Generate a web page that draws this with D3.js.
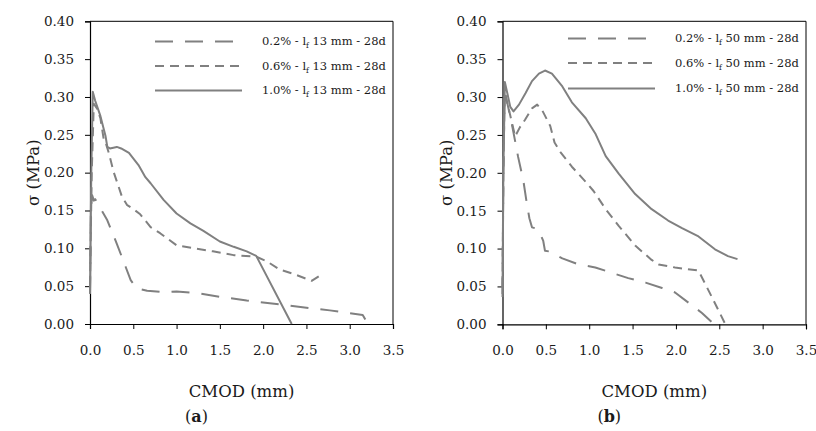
<!DOCTYPE html>
<html><head><meta charset="utf-8">
<script src="https://cdn.jsdelivr.net/npm/d3@7"></script>
<style>
body{margin:0;background:#fff;}
svg{display:block;font-family:"DejaVu Serif",serif;}
</style></head>
<body><svg id="c" width="816" height="431"></svg>
<script>
// ---------- data ----------
const xTicks = [0, 0.5, 1.0, 1.5, 2.0, 2.5, 3.0, 3.5];
const yTicks = [0, 0.05, 0.10, 0.15, 0.20, 0.25, 0.30, 0.35, 0.40];
const seriesPct = ["0.2%", "0.6%", "1.0%"];
const fibreLen = ["13", "50"];
const panelTags = ["a", "b"];

const a02 = [[0,0.04],[0.01,0.15],[0.025,0.17],[0.045,0.163],[0.06,0.165],[0.2,0.137],[0.31,0.106],[0.41,0.076],[0.47,0.058],[0.54,0.047],[0.66,0.044],[0.85,0.042],[1.0,0.043],[1.23,0.041],[1.5,0.036],[1.81,0.031],[2.19,0.026],[2.54,0.021],[2.77,0.018],[3.15,0.012],[3.21,0]];
const a06 = [[0,0.05],[0.02,0.2],[0.044,0.291],[0.08,0.285],[0.12,0.272],[0.16,0.243],[0.18,0.24],[0.22,0.225],[0.27,0.202],[0.37,0.168],[0.43,0.157],[0.5,0.152],[0.58,0.145],[0.7,0.128],[0.81,0.12],[1.0,0.104],[1.2,0.1],[1.42,0.096],[1.66,0.091],[1.92,0.089],[2.04,0.083],[2.19,0.072],[2.38,0.065],[2.56,0.057],[2.67,0.065]];
const a10 = [[0,0.04],[0.015,0.2],[0.032,0.307],[0.06,0.295],[0.12,0.275],[0.18,0.248],[0.2,0.234],[0.23,0.232],[0.31,0.234],[0.36,0.232],[0.45,0.226],[0.56,0.21],[0.64,0.194],[0.7,0.186],[0.85,0.164],[1.0,0.146],[1.16,0.133],[1.31,0.123],[1.5,0.109],[1.66,0.102],[1.81,0.096],[1.92,0.09],[2.33,0]];

const b02 = [[0,0.04],[0.01,0.2],[0.025,0.31],[0.05,0.295],[0.107,0.265],[0.18,0.221],[0.24,0.19],[0.28,0.16],[0.31,0.14],[0.34,0.128],[0.40,0.126],[0.44,0.118],[0.47,0.11],[0.49,0.097],[0.55,0.096],[0.69,0.087],[0.88,0.079],[1.07,0.075],[1.26,0.068],[1.45,0.061],[1.65,0.055],[1.84,0.048],[1.99,0.042],[2.14,0.029],[2.3,0.015],[2.44,0]];
const b06 = [[0,0.05],[0.01,0.2],[0.025,0.305],[0.06,0.29],[0.146,0.248],[0.2,0.26],[0.26,0.27],[0.34,0.285],[0.4,0.29],[0.46,0.282],[0.55,0.262],[0.6,0.24],[0.67,0.227],[0.8,0.208],[0.96,0.188],[1.05,0.176],[1.19,0.152],[1.34,0.13],[1.53,0.104],[1.72,0.085],[1.8,0.079],[1.99,0.075],[2.26,0.071],[2.41,0.037],[2.57,0]];
const b10 = [[0,0.036],[0.01,0.2],[0.027,0.32],[0.05,0.308],[0.09,0.287],[0.127,0.281],[0.19,0.29],[0.265,0.305],[0.34,0.321],[0.42,0.331],[0.49,0.335],[0.57,0.331],[0.69,0.314],[0.8,0.293],[0.96,0.272],[1.07,0.252],[1.19,0.222],[1.34,0.199],[1.53,0.172],[1.72,0.152],[1.91,0.137],[2.07,0.127],[2.26,0.116],[2.45,0.099],[2.6,0.09],[2.71,0.086]];

// ---------- layout / style ----------
const panels = [
  {x0: 90, x1: 393, yBot: 324, yTop: 21.3, series: [a02, a06, a10], legY: [41.5, 66, 90.5], legX: 155, textX: 262, len: fibreLen[0], tag: panelTags[0]},
  {x0: 502.5, x1: 806, yBot: 324.3, yTop: 21.3, series: [b02, b06, b10], legY: [38.5, 63, 88.5], legX: 568, textX: 675, len: fibreLen[1], tag: panelTags[1]}
];
const lineColor = "#808080";
const dashes = ["18,12", "9,6", null];
const svg = d3.select("#c");

panels.forEach(p => {
  const x = d3.scaleLinear().domain([0, 3.5]).range([p.x0, p.x1]);
  const y = d3.scaleLinear().domain([0, 0.40]).range([p.yBot, p.yTop]);
  const g = svg.append("g");

  // frame top and right
  g.append("line").attr("x1", p.x0).attr("x2", p.x1).attr("y1", p.yTop).attr("y2", p.yTop).attr("stroke", "#000").attr("stroke-width", 1);
  g.append("line").attr("x1", p.x1).attr("x2", p.x1).attr("y1", p.yTop).attr("y2", p.yBot).attr("stroke", "#000").attr("stroke-width", 1);

  // axes
  const xa = g.append("g").attr("transform", `translate(0,${p.yBot})`)
    .call(d3.axisBottom(x).tickValues(xTicks).tickSize(5).tickPadding(16).tickFormat(d => d.toFixed(1)));
  const ya = g.append("g").attr("transform", `translate(${p.x0},0)`)
    .call(d3.axisLeft(y).tickValues(yTicks).tickSize(5).tickPadding(11).tickFormat(d => d.toFixed(2)));
  [xa, ya].forEach(a => {
    a.select(".domain").attr("stroke", "#000").attr("stroke-width", 1.2);
    a.selectAll(".tick line").attr("stroke", "#000");
    a.selectAll("text").attr("font-family", "DejaVu Serif").attr("font-size", 13.5).attr("fill", "#1a1a1a");
  });

  // series
  const line = d3.line().x(d => x(d[0])).y(d => y(d[1]));
  p.series.forEach((s, i) => {
    g.append("path").datum(s).attr("d", line).attr("fill", "none")
      .attr("stroke", lineColor).attr("stroke-width", 2)
      .attr("stroke-dasharray", dashes[i]).attr("stroke-linejoin", "round");
  });

  // legend
  seriesPct.forEach((pct, i) => {
    const ly = p.legY[i];
    g.append("line").attr("x1", p.legX).attr("x2", p.legX + 87).attr("y1", ly).attr("y2", ly)
      .attr("stroke", lineColor).attr("stroke-width", 2).attr("stroke-dasharray", dashes[i]);
    const t = g.append("text").attr("x", p.textX).attr("y", ly + 3.5)
      .attr("font-size", 11.5).attr("fill", "#1a1a1a");
    t.append("tspan").text(pct + " - l");
    t.append("tspan").attr("font-size", 7.5).attr("dy", 3).text("f");
    t.append("tspan").attr("dy", -3).text(" " + p.len + " mm - 28d");
  });

  // axis titles
  const cx = (p.x0 + p.x1) / 2;
  g.append("text").attr("x", cx).attr("y", 397).attr("text-anchor", "middle")
    .attr("font-size", 16.5).attr("fill", "#1a1a1a").text("CMOD (mm)");
  g.append("text").attr("transform", `translate(${p.x0 - 51},${(p.yTop + p.yBot) / 2}) rotate(-90)`)
    .attr("text-anchor", "middle").attr("font-size", 16.5).attr("fill", "#1a1a1a").text("σ (MPa)");
  const tg = g.append("text").attr("x", cx - 45).attr("y", 422).attr("text-anchor", "middle")
    .attr("font-size", 16).attr("fill", "#1a1a1a");
  tg.append("tspan").text("(");
  tg.append("tspan").attr("font-weight", "bold").text(p.tag);
  tg.append("tspan").text(")");
});
</script></body></html>
